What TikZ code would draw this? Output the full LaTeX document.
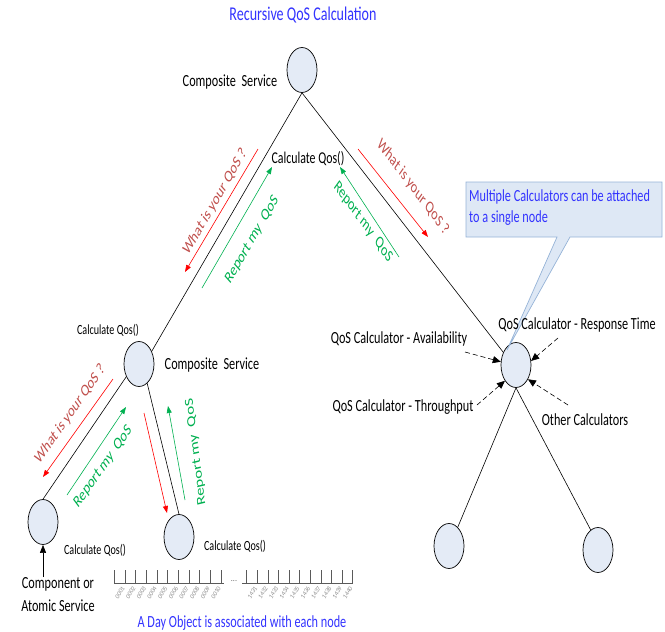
\documentclass[tikz,border=0pt]{standalone}
\usepackage{fontspec}
\setmainfont{Carlito}
\newfontfamily\narrowfont{Carlito}[FakeStretch=0.72]
\usetikzlibrary{arrows.meta,shapes.geometric}
\definecolor{nodefill}{RGB}{228,235,246}
\definecolor{askred}{RGB}{192,80,77}
\definecolor{replygreen}{RGB}{0,176,80}
\definecolor{noteblue}{RGB}{51,51,255}
\definecolor{calloutfill}{RGB}{222,232,245}
\definecolor{calloutedge}{RGB}{149,179,215}
\definecolor{tickgray}{RGB}{90,90,90}
\definecolor{daygray}{RGB}{140,140,140}

% a label set along a slanted line, drawn in the same narrowed lettering as the rest
\newcommand\slantlabel[6]{%
  \begin{scope}[shift={(#2,#3)}, xscale=0.72, rotate=#4]
    \node[#5, transform shape] (#1) at (0,0) {#6};
  \end{scope}}

\begin{document}
\begin{tikzpicture}[x=1pt,y=-1pt,
  svc/.style={ellipse, draw, fill=nodefill, minimum width=30pt, minimum height=45pt, inner sep=0pt, line width=0.7pt},
  link/.style={draw, line width=0.6pt},
  ask/.style={draw=red, line width=0.6pt, -{Triangle[length=7pt,width=5pt]}},
  reply/.style={draw=replygreen, line width=0.6pt, -{Triangle[length=7pt,width=5pt]}},
  asktext/.style={text=askred, font=\fontsize{17}{19}\selectfont, inner sep=0pt},
  replytext/.style={text=replygreen, font=\fontsize{17}{19}\selectfont, inner sep=0pt},
  lbl/.style={font=\narrowfont\fontsize{17}{19}\selectfont, inner sep=0pt},
  smalllbl/.style={font=\narrowfont\fontsize{14}{16}\selectfont, inner sep=0pt},
  bluelbl/.style={font=\narrowfont\fontsize{17}{19}\selectfont, text=noteblue, inner sep=0pt},
  calcarrow/.style={draw, line width=0.6pt, dash pattern=on 5pt off 3pt, -{Triangle[length=8pt,width=7pt]}},
  callout/.style={draw=calloutedge, fill=calloutfill, line width=0.7pt},
  daylbl/.style={font=\fontsize{6.5}{7}\selectfont\itshape, text=daygray, inner sep=0pt, rotate=60, anchor=east}
]
\useasboundingbox (0,0) rectangle (665,632);

% title
\node[font=\narrowfont\fontsize{19.5}{22}\selectfont, text=noteblue, inner sep=0pt] (title) at (303,15) {Recursive QoS Calculation};

% service tree
\node[svc] (top) at (302,70) {};
\node[svc] (ml)  at (139,364) {};
\node[svc] (bl)  at (43,522) {};
\node[svc] (bm)  at (179,537) {};
\node[svc] (rn)  at (516,365) {};
\node[svc] (br1) at (449,546) {};
\node[svc] (br2) at (598,550) {};

\draw[link] (top.south) -- (ml.45);
\draw[link] (top.south) -- (rn.135);
\draw[link] (ml.225) -- (bl.north);
\draw[link] (ml.-67) -- (bm.north);
\draw[link] (rn.south) -- (br1.65);
\draw[link] (rn.south) -- (br2.110);

% labels
\node[lbl] (topname) at (230,82) {Composite~ Service};
\node[font=\narrowfont\fontsize{16.5}{18}\selectfont, inner sep=0pt] (topcalc) at (308,159) {Calculate Qos()};
\node[smalllbl] (mlcalc) at (108,330) {Calculate Qos()};
\node[lbl] (mlname) at (212,365) {Composite~ Service};
\node[smalllbl] (blcalc) at (95,550) {Calculate Qos()};
\node[smalllbl] (bmcalc) at (235,546) {Calculate Qos()};
\node[lbl] (comp1) at (58,584) {Component or};
\node[lbl] (comp2) at (58,606) {Atomic Service};
\coordinate (compsrc) at (43,577);
\draw[line width=0.6pt, -{Triangle[length=8pt,width=6pt]}] (compsrc) -- (bl.south);

% request / reply messages, upper left branch
\coordinate (a1s) at (258,149); \coordinate (a1e) at (185,272);
\coordinate (r1s) at (202,288); \coordinate (r1e) at (272,167);
\draw[ask] (a1s) -- (a1e);
\draw[reply] (r1s) -- (r1e);
\slantlabel{q1}{215}{202}{51.3}{asktext}{What is your QoS ?}
\slantlabel{p1}{252}{240}{51.3}{replytext}{Report my~ QoS}

% upper right branch
\coordinate (a2s) at (358,149); \coordinate (a2e) at (428,237);
\coordinate (r2s) at (399,257); \coordinate (r2e) at (340,167);
\draw[ask] (a2s) -- (a2e);
\draw[reply] (r2s) -- (r2e);
\slantlabel{q2}{413}{187}{-43.7}{asktext}{What is your QoS ?}
\slantlabel{p2}{363}{222}{-44.7}{replytext}{Report my~ QoS}

% lower left branch
\coordinate (a3s) at (113,379); \coordinate (a3e) at (43,477);
\coordinate (r3s) at (67,495); \coordinate (r3e) at (126,407);
\draw[ask] (a3s) -- (a3e);
\draw[reply] (r3s) -- (r3e);
\slantlabel{q3}{70}{414}{45.8}{asktext}{What is your QoS ?}
\slantlabel{p3}{103}{467}{45.8}{replytext}{Report my~ QoS}

% lower middle branch
\coordinate (a4s) at (144,413); \coordinate (a4e) at (167,513);
\coordinate (r4s) at (185,500); \coordinate (r4e) at (168,406);
\draw[ask] (a4s) -- (a4e);
\draw[reply] (r4s) -- (r4e);
\slantlabel{p4}{196}{452}{99.7}{replytext}{Report my~ QoS}

% callout
\draw[callout] (466,182) -- (662,182) -- (662,237) -- (570,237) -- (507,350) -- (557,237) -- (466,237) -- cycle;
\node[font=\narrowfont\fontsize{17}{21}\selectfont, text=noteblue, inner sep=0pt, align=left, anchor=north west] (note) at (469,189)
  {Multiple Calculators can be attached\\to a single node};

% calculators attached to the node
\node[lbl] (cavail) at (399,339) {QoS Calculator - Availability};
\node[lbl] (cresp) at (577,325) {QoS Calculator - Response Time};
\node[lbl] (cthru) at (403,407) {QoS Calculator - Throughput};
\node[lbl] (cother) at (585,420) {Other Calculators};
\coordinate (cavs) at (465,352);
\coordinate (cres) at (558,338);
\coordinate (cths) at (477,405);
\coordinate (cots) at (568,405);
\draw[calcarrow] (cavs) -- (rn.168);
\draw[calcarrow] (cres) -- (rn.15);
\draw[calcarrow] (cths) -- (rn.235);
\draw[calcarrow] (cots) -- (rn.-50);

% day object time line
\draw[tickgray, line width=0.6pt] (114,583) -- (224,583);
\draw[tickgray, line width=0.6pt] (242,583) -- (353,583);
\foreach \k in {0,...,10} {
  \draw[tickgray, line width=0.5pt] (114.3+10.67*\k,570) -- (114.3+10.67*\k,583);
  \draw[tickgray, line width=0.5pt] (246.7+10.6*\k,570) -- (246.7+10.6*\k,583);
}
\foreach \lab [count=\k from 0] in {0001,0002,0003,0004,0005,0006,0007,0008,0009,0010}
  \node[daylbl] at (123.3+10.67*\k,587) {\lab};
\foreach \lab [count=\k from 0] in {1431,1432,1433,1434,1435,1436,1437,1438,1439,1440}
  \node[daylbl] at (255.7+10.6*\k,587) {\lab};
\node[font=\fontsize{8}{8}\selectfont, text=tickgray] (dots) at (234,581) {...};
\node[bluelbl] (dayobj) at (242,623) {A Day Object is associated with each node};
\end{tikzpicture}
\end{document}
